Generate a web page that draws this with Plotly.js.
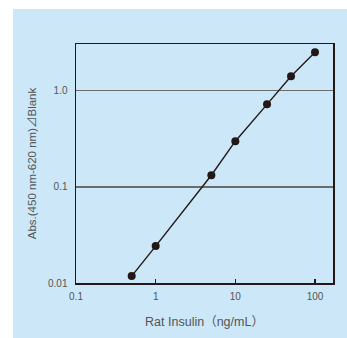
<!DOCTYPE html>
<html>
<head>
<meta charset="utf-8">
<script src="https://cdn.plot.ly/plotly-3.0.1.min.js"></script>
<style>
html,body{margin:0;padding:0;background:#ffffff;width:347px;height:338px;overflow:hidden;}
#chart{position:absolute;left:13px;top:9px;width:334px;height:329px;}
</style>
</head>
<body>
<div id="chart"></div>
<script>
var concentrations = [0.5, 1, 5, 10, 25, 50, 100];
var absorbance = [0.0118, 0.0242, 0.132, 0.298, 0.72, 1.41, 2.5];
var xTickVals = [0.1, 1, 10, 100];
var xTickText = ['0.1', '1', '10', '100'];
var yTickVals = [0.01, 0.1, 1];
var yTickText = ['0.01', '0.1', '1.0'];

var ink = '#231815';
var textCol = '#555555';
var fontFam = 'Liberation Sans, Arial, Noto Sans CJK JP, sans-serif';

var trace = {
  x: concentrations,
  y: absorbance,
  type: 'scatter',
  mode: 'lines+markers',
  line: {color: ink, width: 1.4},
  marker: {color: ink, size: 8},
  showlegend: false,
  hoverinfo: 'none'
};

var layout = {
  width: 334,
  height: 329,
  paper_bgcolor: '#cce7f8',
  plot_bgcolor: '#cce7f8',
  margin: {l: 63, r: 14, t: 35, b: 55, pad: 0},
  font: {family: fontFam, color: textCol, size: 10},
  xaxis: {
    type: 'log',
    range: [-1, 2.226],
    tickvals: xTickVals,
    ticktext: xTickText,
    ticks: 'inside',
    ticklen: 4,
    tickwidth: 1.2,
    tickcolor: ink,
    ticklabelstandoff: 3,
    showgrid: false,
    zeroline: false,
    showline: true,
    mirror: true,
    linecolor: ink,
    linewidth: 1.5,
    tickfont: {size: 10, color: textCol},
    title: {text: 'Rat Insulin（ng/mL）', font: {size: 12.5, color: textCol}, standoff: 16}
  },
  yaxis: {
    type: 'log',
    range: [-2, 0.485],
    tickvals: yTickVals,
    ticktext: yTickText,
    ticks: '',
    ticklabelstandoff: 5,
    showgrid: true,
    gridcolor: '#6b6b6b',
    gridwidth: 1.5,
    zeroline: false,
    showline: true,
    mirror: true,
    linecolor: ink,
    linewidth: 1.5,
    tickfont: {size: 10, color: textCol},
    title: {text: 'Abs.(450 nm-620 nm)⊿Blank', font: {size: 11.5, color: textCol}, standoff: 9}
  }
};

Plotly.newPlot('chart', [trace], layout, {staticPlot: true, displayModeBar: false});
</script>
</body>
</html>
